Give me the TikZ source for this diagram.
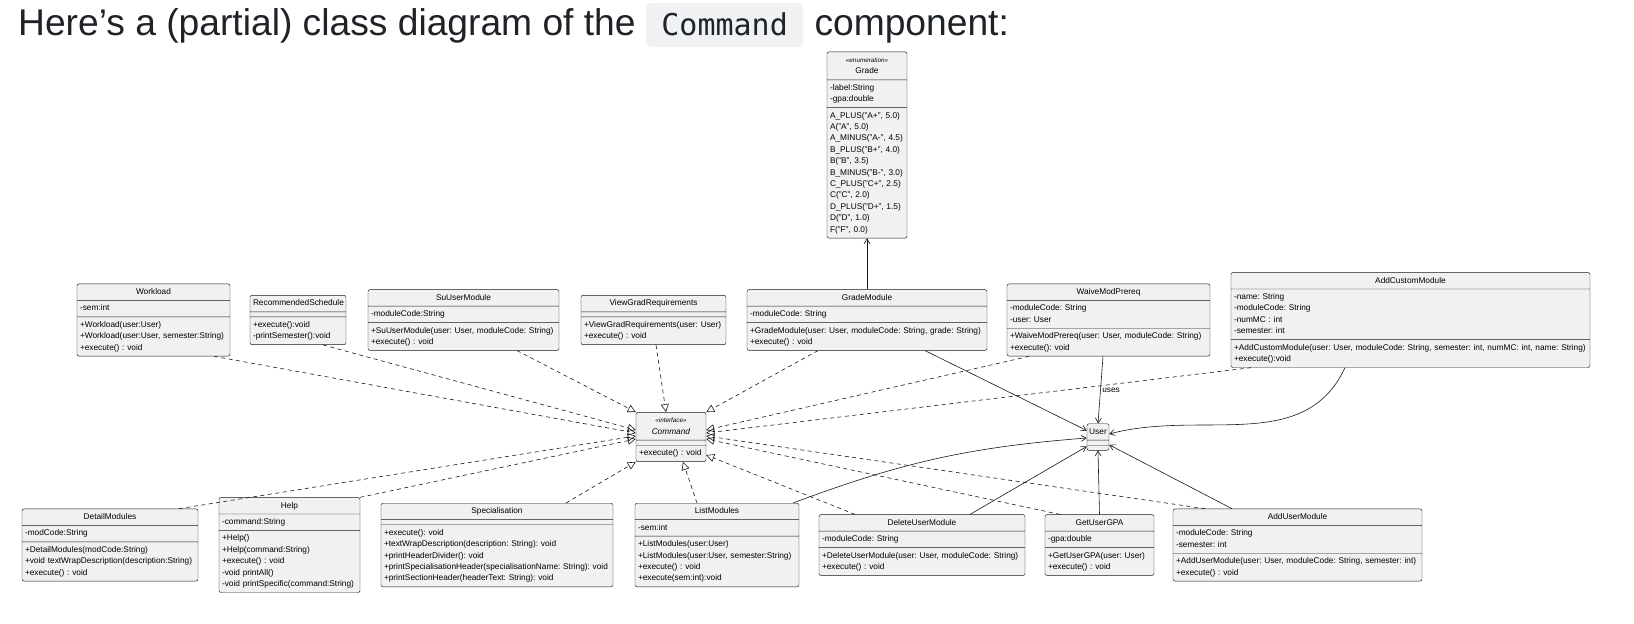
\documentclass[tikz,border=0pt]{standalone}
\usepackage{fontspec}
\setmainfont{Liberation Sans}
\setmonofont{DejaVu Sans Mono}
\usetikzlibrary{shapes.multipart, arrows.meta, positioning}

\definecolor{umlfill}{HTML}{F1F1F1}
\definecolor{umlline}{HTML}{181818}
\definecolor{textdark}{HTML}{1F2328}
\definecolor{codebg}{HTML}{EFF1F3}

\newcommand{\umlfont}{\fontsize{8.3}{11.4}\selectfont\frenchspacing}
\newcommand{\stereo}[1]{{\fontsize{6.3}{8}\selectfont\itshape «#1»}}
\newcommand{\kopf}[1]{\strut\hspace*{\fill}#1\hspace*{\fill}\strut}
\newcommand{\teil}[1]{\strut#1\strut}

\tikzset{
  classbox/.style={rectangle split, rectangle split parts=3, draw=umlline, fill=umlfill,
    line width=0.45pt, rounded corners=2pt, inner xsep=3pt, inner ysep=2.3pt,
    font=\umlfont,
    rectangle split empty part height=0pt, rectangle split empty part depth=0pt},
  realisiert/.style={draw=umlline, line width=0.6pt, dash pattern=on 4pt off 3.5pt,
    -{Triangle[open, length=8pt, width=8pt]}},
  benutzt/.style={draw=umlline, line width=0.6pt, -{Straight Barb[length=5pt, width=6pt]}},
  titel/.style={font=\fontsize{37.2}{45}\selectfont, text=textdark, inner sep=0pt},
  codebox/.style={fill=codebg, rounded corners=6pt, text=textdark,
    font=\ttfamily\fontsize{30}{36}\selectfont, minimum width=157pt,
    text height=24pt, text depth=4pt, inner ysep=8pt, inner xsep=0pt}
}

\begin{document}
\begin{tikzpicture}[x=1pt, y=1pt]
  \useasboundingbox (0,0) rectangle (1634,-624);
  \fill[white] (0,0) rectangle (1634,-624);

  % Ueberschrift
  \draw (18,-35) node[titel, anchor=base west] (HeadA) {Here’s a (partial) class diagram of the};
  \draw ([xshift=10pt]HeadA.base east) node[codebox, anchor=base west] (HeadCode) {Command};
  \draw ([xshift=11pt]HeadCode.base east) node[titel, anchor=base west] (HeadB) {component:};

  % Enum oben
  \draw (867,-145) node[classbox, text width=74pt] (Grade) {\kopf{\stereo{enumeration}}\\\kopf{Grade}
    \nodepart{two}\teil{-label:String\\-gpa:double}
    \nodepart{three}\teil{A\_PLUS("A+", 5.0)\\A("A", 5.0)\\A\_MINUS("A-", 4.5)\\B\_PLUS("B+", 4.0)\\B("B", 3.5)\\B\_MINUS("B-", 3.0)\\C\_PLUS("C+", 2.5)\\C("C", 2.0)\\D\_PLUS("D+", 1.5)\\D("D", 1.0)\\F("F", 0.0)}};

  % Klassen oben
  \draw (153.5,-320) node[classbox, text width=147pt] (Workload) {\kopf{Workload}
    \nodepart{two}\teil{-sem:int}
    \nodepart{three}\teil{+Workload(user:User)\\+Workload(user:User, semester:String)\\+execute() : void}};
  \draw (298,-320) node[classbox, text width=90pt] (RecSchedule) {\kopf{RecommendedSchedule}
    \nodepart{two}
    \nodepart{three}\teil{+execute():void\\-printSemester():void}};
  \draw (463.5,-320) node[classbox, text width=185pt] (SuUser) {\kopf{SuUserModule}
    \nodepart{two}\teil{-moduleCode:String}
    \nodepart{three}\teil{+SuUserModule(user: User, moduleCode: String)\\+execute() : void}};
  \draw (653.5,-320) node[classbox, text width=139pt] (ViewGrad) {\kopf{ViewGradRequirements}
    \nodepart{two}
    \nodepart{three}\teil{+ViewGradRequirements(user: User)\\+execute() : void}};
  \draw (867,-320) node[classbox, text width=234pt] (GradeMod) {\kopf{GradeModule}
    \nodepart{two}\teil{-moduleCode: String}
    \nodepart{three}\teil{+GradeModule(user: User, moduleCode: String, grade: String)\\+execute() : void}};
  \draw (1108.5,-320) node[classbox, text width=197pt] (Waive) {\kopf{WaiveModPrereq}
    \nodepart{two}\teil{-moduleCode: String\\-user: User}
    \nodepart{three}\teil{+WaiveModPrereq(user: User, moduleCode: String)\\+execute(): void}};
  \draw (1410.5,-320) node[classbox, text width=353pt] (AddCustom) {\kopf{AddCustomModule}
    \nodepart{two}\teil{-name: String\\-moduleCode: String\\-numMC : int\\-semester: int}
    \nodepart{three}\teil{+AddCustomModule(user: User, moduleCode: String, semester: int, numMC: int, name: String)\\+execute():void}};

  % Mitte
  \draw (671,-437) node[classbox, text width=64pt] (Command) {\kopf{\stereo{interface}}\\\kopf{\textit{Command}}
    \nodepart{two}
    \nodepart{three}\teil{+execute() : void}};
  \draw (1098,-437) node[classbox, text width=18pt, inner xsep=2pt] (User) {\kopf{User}
    \nodepart{two}
    \nodepart{three}};

  % Klassen unten
  \draw (110,-545) node[classbox, text width=170pt] (DetailMod) {\kopf{DetailModules}
    \nodepart{two}\teil{-modCode:String}
    \nodepart{three}\teil{+DetailModules(modCode:String)\\+void textWrapDescription(description:String)\\+execute() : void}};
  \draw (289.5,-545) node[classbox, text width=135pt] (Help) {\kopf{Help}
    \nodepart{two}\teil{-command:String}
    \nodepart{three}\teil{+Help()\\+Help(command:String)\\+execute() : void\\-void printAll()\\-void printSpecific(command:String)}};
  \draw (497,-545) node[classbox, text width=226pt] (Special) {\kopf{Specialisation}
    \nodepart{two}
    \nodepart{three}\teil{+execute(): void\\+textWrapDescription(description: String): void\\+printHeaderDivider(): void\\+printSpecialisationHeader(specialisationName: String): void\\+printSectionHeader(headerText: String): void}};
  \draw (717,-545) node[classbox, text width=158pt] (ListMod) {\kopf{ListModules}
    \nodepart{two}\teil{-sem:int}
    \nodepart{three}\teil{+ListModules(user:User)\\+ListModules(user:User, semester:String)\\+execute() : void\\+execute(sem:int):void}};
  \draw (922,-545) node[classbox, text width=200pt] (DeleteUser) {\kopf{DeleteUserModule}
    \nodepart{two}\teil{-moduleCode: String}
    \nodepart{three}\teil{+DeleteUserModule(user: User, moduleCode: String)\\+execute() : void}};
  \draw (1099.5,-545) node[classbox, text width=103pt] (GetGPA) {\kopf{GetUserGPA}
    \nodepart{two}\teil{-gpa:double}
    \nodepart{three}\teil{+GetUserGPA(user: User)\\+execute() : void}};
  \draw (1297.5,-545) node[classbox, text width=243pt] (AddUser) {\kopf{AddUserModule}
    \nodepart{two}\teil{-moduleCode: String\\-semester: int}
    \nodepart{three}\teil{+AddUserModule(user: User, moduleCode: String, semester: int)\\+execute() : void}};

  % Realisierungen von Command
  \draw[realisiert] ([xshift=60.5pt]Workload.south) -- ([yshift=4pt]Command.west);
  \draw[realisiert] ([xshift=25pt]RecSchedule.south) -- ([yshift=7pt]Command.west);
  \draw[realisiert] ([xshift=53.5pt]SuUser.south) -- (Command.north west);
  \draw[realisiert] ([xshift=2.5pt]ViewGrad.south) -- ([xshift=-5pt]Command.north);
  \draw[realisiert] ([xshift=-49pt]GradeMod.south) -- (Command.north east);
  \draw[realisiert] ([xshift=-79.5pt]Waive.south) -- ([yshift=7pt]Command.east);
  \draw[realisiert] ([xshift=-159.5pt]AddCustom.south) -- ([yshift=4pt]Command.east);
  \draw[realisiert] ([xshift=69pt]DetailMod.north) -- ([yshift=1pt]Command.west);
  \draw[realisiert] (Help.north east) -- ([yshift=-2pt]Command.west);
  \draw[realisiert] ([xshift=69pt]Special.north) -- (Command.south west);
  \draw[realisiert] ([xshift=-20pt]ListMod.north) -- ([xshift=12pt]Command.south);
  \draw[realisiert] ([xshift=-67pt]DeleteUser.north) -- ([yshift=-18pt]Command.east);
  \draw[realisiert] ([xshift=-39.5pt]GetGPA.north) -- ([yshift=-2pt]Command.east);
  \draw[realisiert] ([xshift=-92.5pt]AddUser.north) -- ([yshift=1pt]Command.east);

  % Assoziationen
  \draw[benutzt] (GradeMod.north) -- (Grade.south);
  \draw[benutzt] ([xshift=58pt]GradeMod.south) -- (User.150);
  \draw[benutzt] ([xshift=-5.5pt]Waive.south) -- (User.north)
    node[midway, right, font=\umlfont, inner sep=1.5pt] {uses};
  \draw[benutzt] ([xshift=-65.5pt]AddCustom.south) to[out=245, in=15] (User.15);
  \draw[benutzt] ([xshift=76pt]ListMod.north) to[bend left=8] (User.185);
  \draw[benutzt] ([xshift=48pt]DeleteUser.north) -- (User.220);
  \draw[benutzt] (GetGPA.north) -- (User.south);
  \draw[benutzt] ([xshift=-65.5pt]AddUser.north) -- (User.325);
\end{tikzpicture}
\end{document}
